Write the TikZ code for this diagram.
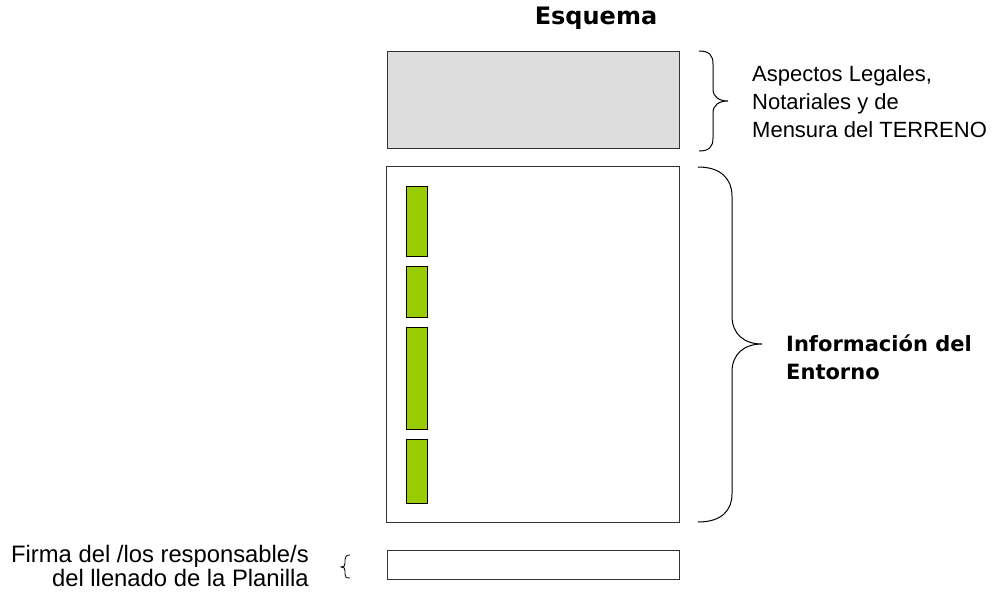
\documentclass[tikz,border=0pt]{standalone}
\usepackage{fontspec}
\setmainfont{Liberation Sans}
\newfontfamily\boldfont{DejaVu Sans}
\begin{document}
\begin{tikzpicture}[x=1pt,y=-1pt,
  box/.style={draw=black!80, line width=1pt},
  greenbar/.style={draw=black, fill=gbar, line width=0.8pt},
  brace/.style={draw=black, line width=1pt},
  lbl/.style={font=\fontsize{22}{28}\selectfont, align=left, anchor=west, inner sep=0pt},
  blbl/.style={font=\boldfont\bfseries\fontsize{21}{28}\selectfont, align=left, anchor=west, inner sep=0pt}]
\useasboundingbox (0,0) rectangle (1002,592);
\definecolor{gbar}{HTML}{99CC00}
\definecolor{gbox}{HTML}{DDDDDD}
\node[font=\boldfont\bfseries\fontsize{24}{26}\selectfont, inner sep=0pt] (title) at (596,18) {Esquema};
% boxes
\draw[box, fill=gbox] (387,51) rectangle (679,148);
\draw[box] (386,166) rectangle (679,522);
\draw[box] (387,550) rectangle (679,579);
% green bars
\draw[greenbar] (406,186) rectangle (427,256);
\draw[greenbar] (406,266) rectangle (427,317);
\draw[greenbar] (406,327) rectangle (427,429);
\draw[greenbar] (406,439) rectangle (427,503);
% brace 1
\draw[brace] (699,51) .. controls (709,51) and (713,55) .. (713,64) -- (713,89)
  .. controls (713,97) and (719,101) .. (728,101)
  .. controls (719,101) and (713,105) .. (713,113) -- (713,138)
  .. controls (713,147) and (709,151) .. (699,151);
% brace 2
\draw[brace] (698,167) .. controls (722,167) and (732,180) .. (732,196) -- (732,316)
  .. controls (732,334) and (744,344) .. (762,344)
  .. controls (744,344) and (732,354) .. (732,372) -- (732,494)
  .. controls (732,510) and (722,522) .. (698,522);
% small left brace
\draw[draw=black, line width=0.8pt] (350,555) .. controls (346,555) and (345,557) .. (345,560) -- (345,563)
  .. controls (345,566) and (344,567) .. (341,567)
  .. controls (344,567) and (345,568) .. (345,571) -- (345,574)
  .. controls (345,577) and (346,578) .. (350,578);
% labels
\node[lbl] (legaltxt) at (752,102) {Aspectos Legales,\\Notariales y de\\Mensura del TERRENO};
\node[blbl] (entorno) at (786,357) {Información del\\Entorno};
\node[font=\fontsize{23.8}{24}\selectfont, align=right, anchor=east, inner sep=0pt] (firma) at (309,566) {Firma del /los responsable/s\\del llenado de la Planilla};
\end{tikzpicture}
\end{document}
